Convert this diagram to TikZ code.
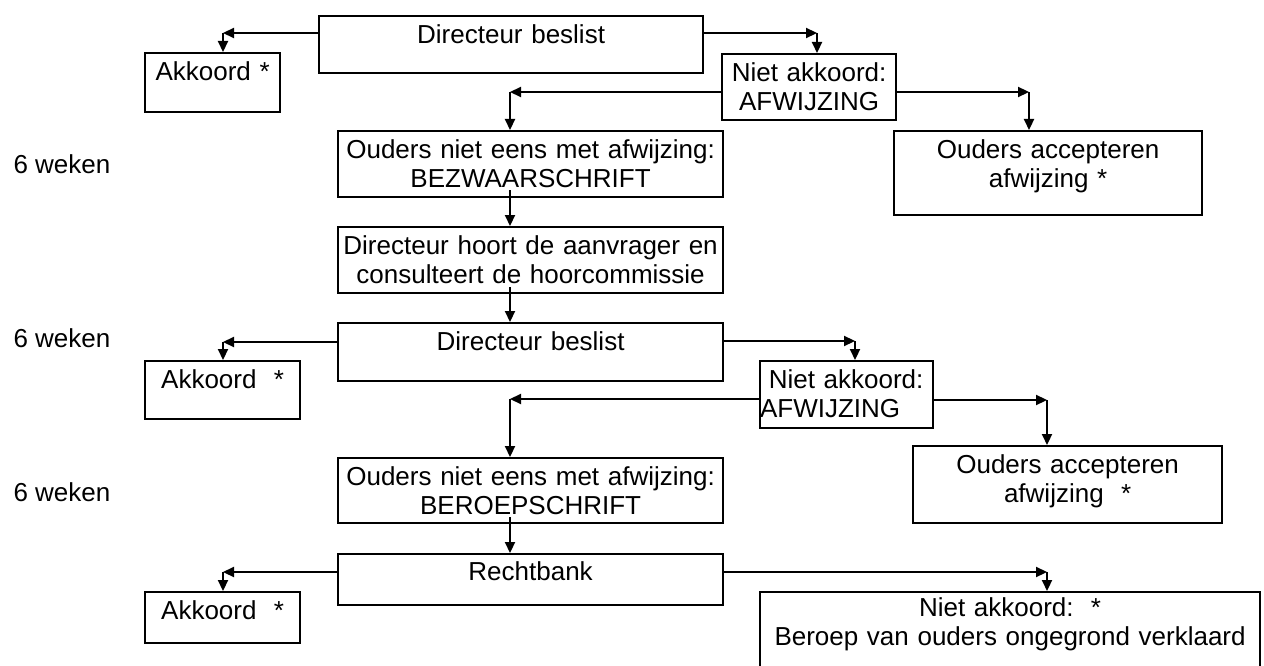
\documentclass[tikz,border=0pt]{standalone}
\usepackage{fontspec}
\setmainfont{Liberation Sans}
\usetikzlibrary{arrows.meta}

\tikzset{
	box/.style={draw, line width=2.2pt, inner sep=0pt, anchor=north west, align=center},
	arr/.style={line width=2.2pt, -{Triangle[length=11pt, width=10pt]}}
}

\begin{document}
\begin{tikzpicture}[x=1pt, y=-1pt, font=\fontsize{26}{29}\selectfont]
	\useasboundingbox (0,0) rectangle (1264,666);

	\node[anchor=base west] (w1) at (10,173) {6 weken};
	\node[anchor=base west] (w2) at (10,347) {6 weken};
	\node[anchor=base west] (w3) at (10,501) {6 weken};

	\node[box, text width=384pt, text height=27pt, text depth=30pt] (dir1) at (318,15) {Directeur beslist};
	\node[box, text width=135pt, text height=27pt, text depth=32pt] (ak1) at (144,52) {Akkoord *};
	\node[box, text width=174pt, text height=27pt, text depth=39pt] (na1) at (721,53) {Niet akkoord:\\AFWIJZING};
	\node[box, text width=385pt, text height=27pt, text depth=39pt] (one1) at (337,130) {Ouders niet eens met afwijzing:\\BEZWAARSCHRIFT};
	\node[box, text width=308pt, text height=27pt, text depth=57pt] (oa1) at (893,130) {Ouders accepteren\\afwijzing *};
	\node[box, text width=385pt, text height=27pt, text depth=39pt] (dh) at (337,226) {Directeur hoort de aanvrager en\\consulteert de hoorcommissie};

	\node[box, text width=385pt, text height=27pt, text depth=31pt] (dir2) at (337,322) {Directeur beslist};
	\node[box, text width=155pt, text height=27pt, text depth=31pt] (ak2) at (144,360) {Akkoord\ \ *};
	\node[box, align=left, text width=173pt, text height=27pt, text depth=40pt] (na2) at (759,360) {\ Niet akkoord:\\AFWIJZING};
	\node[box, text width=385pt, text height=27pt, text depth=38pt] (one2) at (337,457) {Ouders niet eens met afwijzing:\\BEROEPSCHRIFT};
	\node[box, text width=309pt, text height=27pt, text depth=50pt] (oa2) at (912,445) {Ouders accepteren\\afwijzing\ \ *};

	\node[box, text width=385pt, text height=26pt, text depth=25pt] (rb) at (337,553) {Rechtbank};
	\node[box, text width=155pt, text height=27pt, text depth=24pt] (ak3) at (144,591) {Akkoord\ \ *};
	\node[box, text width=500pt, text height=24pt, text depth=57pt] (na3) at (759,591) {Niet akkoord:\ \ *\\Beroep van ouders ongegrond verklaard};

	\coordinate (k1) at (223,33);
	\coordinate (k2) at (817,33);
	\coordinate (k3) at (510,92);
	\coordinate (k4) at (1029,92);
	\coordinate (k6) at (223,342);
	\coordinate (k7) at (855,341);
	\coordinate (k8) at (510,399);
	\coordinate (k9) at (1047,400);
	\coordinate (k10) at (223,572);
	\coordinate (k11) at (1047,572);

	\draw[arr] (dir1.west |- k1) -- (k1);
	\draw[arr] (k1) -- (k1 |- ak1.north);
	\draw[arr] (dir1.east |- k2) -- (k2);
	\draw[arr] (k2) -- (k2 |- na1.north);
	\draw[arr] (na1.west |- k3) -- (k3);
	\draw[arr] (k3) -- (k3 |- one1.north);
	\draw[arr] (na1.east |- k4) -- (k4);
	\draw[arr] (k4) -- (k4 |- oa1.north);
	\draw[arr] ([yshift=8pt]k3 |- one1.south) -- (k3 |- dh.north);
	\draw[arr] ([yshift=7pt]k3 |- dh.south) -- (k3 |- dir2.north);

	\draw[arr] (dir2.west |- k6) -- (k6);
	\draw[arr] (k6) -- (k6 |- ak2.north);
	\draw[arr] (dir2.east |- k7) -- (k7);
	\draw[arr] (k7) -- (k7 |- na2.north);
	\draw[arr] (na2.west |- k8) -- (k8);
	\draw[arr] (k8) -- (k8 |- one2.north);
	\draw[arr] (na2.east |- k9) -- (k9);
	\draw[arr] (k9) -- (k9 |- oa2.north);
	\draw[arr] ([yshift=7pt]k3 |- one2.south) -- (k3 |- rb.north);

	\draw[arr] (rb.west |- k10) -- (k10);
	\draw[arr] (k10) -- (k10 |- ak3.north);
	\draw[arr] (rb.east |- k11) -- (k11);
	\draw[arr] (k11) -- (k11 |- na3.north);
\end{tikzpicture}
\end{document}
